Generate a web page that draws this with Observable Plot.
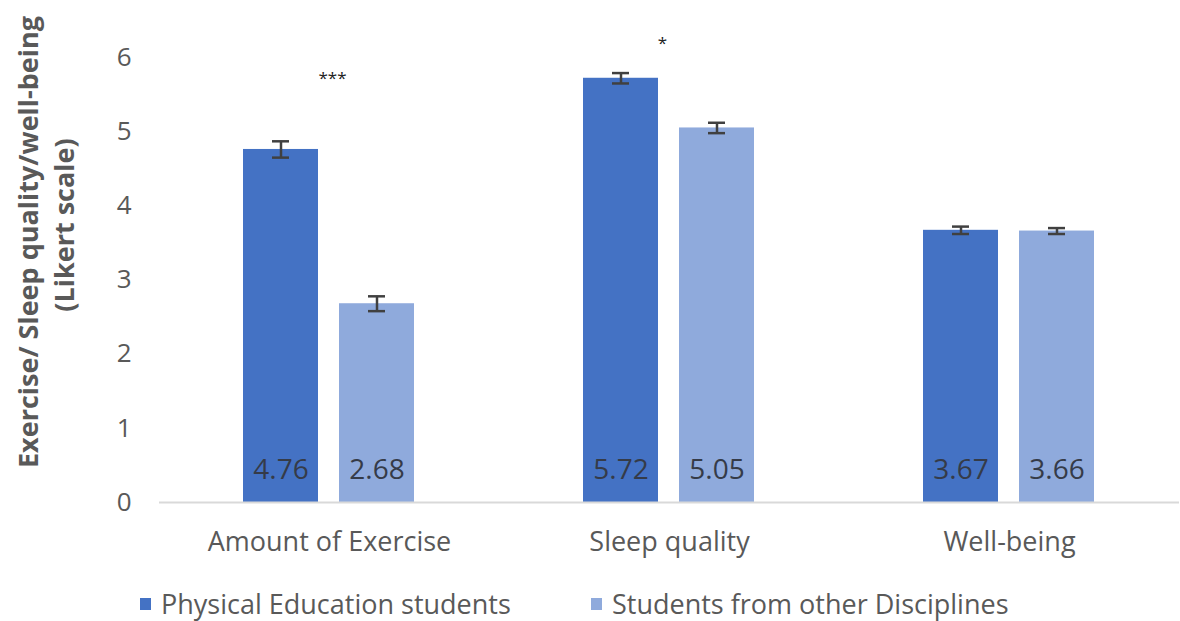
<!DOCTYPE html>
<html>
<head>
<meta charset="utf-8">
<script src="https://cdn.jsdelivr.net/npm/d3@7"></script>
<script src="https://cdn.jsdelivr.net/npm/@observablehq/plot@0.6"></script>
<style>
  html, body { margin: 0; padding: 0; background: #fff; }
  #wrap { width: 1180px; height: 621px; position: relative; font-family: "Open Sans", sans-serif; overflow: hidden; }
  #legend { position: absolute; left: 0; top: 584px; width: 1180px; height: 40px; }
  .li { position: absolute; top: 0; display: flex; align-items: center; font-size: 27px; line-height: 40px; color: #595959; height: 40px; white-space: nowrap; }
  .sw { width: 11px; height: 12px; margin-right: 10px; display: inline-block; }
</style>
</head>
<body>
<div id="wrap"><div id="chart"></div><div id="legend"></div></div>
<script>
const categories = ["Amount of Exercise", "Sleep quality", "Well-being"];
const series = ["Physical Education students", "Students from other Disciplines"];
const peValues = [4.76, 5.72, 3.67];
const otherValues = [2.68, 5.05, 3.66];
const peErrors = [0.11, 0.07, 0.05];
const otherErrors = [0.10, 0.07, 0.04];
const significance = ["***", "*", ""];
const sigY = [5.72, 6.19, 0];
const sigDx = [3, -7, 0];
const yTicks = [0, 1, 2, 3, 4, 5, 6];
const yLabel1 = "Exercise/ Sleep quality/well-being";
const yLabel2 = "(Likert scale)";
const colors = ["#4472C4", "#8FAADC"];

const data = [];
categories.forEach((c, i) => {
  data.push({cat: c, series: series[0], value: peValues[i], err: peErrors[i]});
  data.push({cat: c, series: series[1], value: otherValues[i], err: otherErrors[i]});
});
const sig = categories.map((c, i) => ({cat: c, label: significance[i], y: sigY[i], dx: sigDx[i]})).filter(d => d.label);

const font = "Open Sans, sans-serif";
const chart = Plot.plot({
  width: 1180,
  height: 584,
  marginLeft: 158,
  marginRight: 0,
  marginTop: 57,
  marginBottom: 82,
  style: {fontFamily: font, background: "#fff", overflow: "visible"},
  fx: {domain: categories, padding: 0, label: null, axis: null},
  x: {domain: series, paddingInner: 0.2165, paddingOuter: 0.861, axis: null},
  y: {domain: [0, 6], axis: null},
  color: {domain: series, range: colors},
  marks: [
    Plot.axisFx({anchor: "bottom", tickSize: 0, tickPadding: 29, fontSize: 27, color: "#595959", label: null}),
    Plot.axisY({ticks: yTicks, tickFormat: d => String(d), tickSize: 0, tickPadding: 28, fontSize: 26, color: "#595959", label: null}),
    Plot.barY(data, {fx: "cat", x: "series", y: "value", fill: "series"}),
    Plot.ruleY([0], {stroke: "#d9d9d9", strokeWidth: 2}),
    Plot.ruleX(data, {fx: "cat", x: "series", y1: d => d.value - d.err, y2: d => d.value + d.err, stroke: "#404040", strokeWidth: 2.5}),
    Plot.tickY(data, {fx: "cat", x: "series", y: d => d.value - d.err, stroke: "#404040", strokeWidth: 2.5, insetLeft: 29, insetRight: 29}),
    Plot.tickY(data, {fx: "cat", x: "series", y: d => d.value + d.err, stroke: "#404040", strokeWidth: 2.5, insetLeft: 29, insetRight: 29}),
    Plot.text(data, {fx: "cat", x: "series", y: 0, text: d => d.value.toFixed(2), dy: -32, fontSize: 28, fill: "#353b48"}),
    ...sig.map(s => Plot.text([s], {fx: "cat", y: "y", text: "label", dx: s.dx, fontSize: 17, fill: "#222"}))
  ]
});
document.getElementById("chart").appendChild(chart);

// y-axis title (two rotated lines)
const svg = d3.select(chart);
svg.append("text").attr("transform", "translate(27,242) rotate(-90)")
  .attr("text-anchor", "middle").attr("dominant-baseline", "central")
  .attr("font-family", font).attr("font-size", 27).attr("font-weight", "bold").attr("fill", "#595959")
  .text(yLabel1);
svg.append("text").attr("transform", "translate(63,225) rotate(-90)")
  .attr("text-anchor", "middle").attr("dominant-baseline", "central")
  .attr("font-family", font).attr("font-size", 27).attr("font-weight", "bold").attr("fill", "#595959")
  .text(yLabel2);

const legend = document.getElementById("legend");
const legendX = [140, 591];
series.forEach((s, i) => {
  const item = document.createElement("div");
  item.className = "li";
  item.style.left = legendX[i] + "px";
  item.innerHTML = `<span class="sw" style="background:${colors[i]}"></span>${s}`;
  legend.appendChild(item);
});
</script>
</body>
</html>
